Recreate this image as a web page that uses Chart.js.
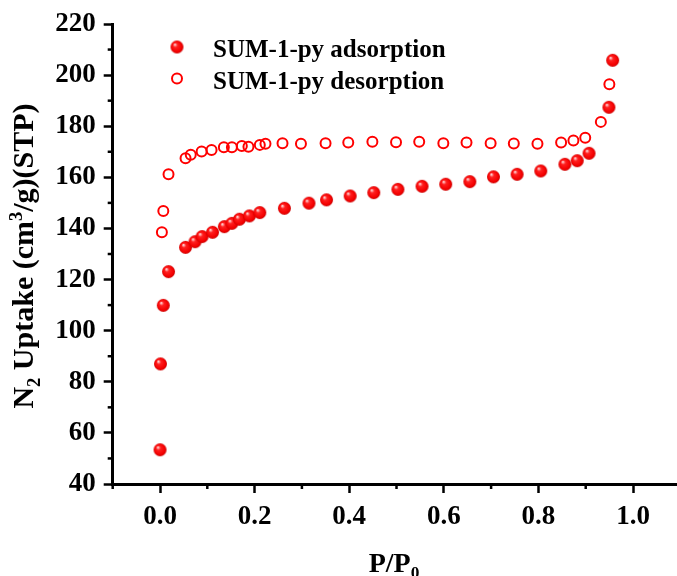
<!DOCTYPE html>
<html lang="en">
    <head>
        <meta charset="UTF-8" />
        <title>N2 isotherm SUM-1-py</title>
        <script src="https://cdn.jsdelivr.net/npm/chart.js"></script>
        <style>
            body {
                margin: 0;
                background: #fff;
                overflow: hidden;
            }
            #isoChart {
                display: block;
            }
        </style>
    </head>
    <body>
        <canvas id="isoChart" width="677" height="576"></canvas>

        <script>
            // adsorption branch (P/P0, uptake)
            const adsP = [0.000, 0.001, 0.007, 0.018, 0.054, 0.074, 0.089, 0.111, 0.136, 0.152, 0.168, 0.189, 0.211, 0.263, 0.315, 0.352, 0.402, 0.452, 0.503, 0.554, 0.604, 0.655, 0.705, 0.755, 0.805, 0.856, 0.882, 0.907, 0.949, 0.957];
            const adsQ = [53.4, 87.0, 109.9, 123.1, 132.6, 134.8, 136.8, 138.5, 140.7, 142.0, 143.6, 144.9, 146.2, 147.9, 149.9, 151.2, 152.7, 154.0, 155.3, 156.5, 157.3, 158.3, 160.2, 161.2, 162.5, 165.1, 166.5, 169.4, 187.4, 205.8];

            // desorption branch
            const desP = [0.004, 0.007, 0.018, 0.054, 0.065, 0.088, 0.109, 0.135, 0.152, 0.173, 0.187, 0.211, 0.223, 0.259, 0.298, 0.350, 0.398, 0.449, 0.499, 0.548, 0.599, 0.648, 0.699, 0.748, 0.798, 0.848, 0.874, 0.899, 0.932, 0.950];
            const desQ = [138.5, 146.8, 161.2, 167.5, 168.8, 170.1, 170.7, 171.8, 171.8, 172.3, 172.0, 172.7, 173.1, 173.3, 173.1, 173.3, 173.6, 173.9, 173.7, 173.9, 173.3, 173.6, 173.3, 173.2, 173.1, 173.6, 174.4, 175.5, 181.7, 196.4];

            const seriesNames = ['SUM-1-py adsorption', 'SUM-1-py desorption'];

            // tick values
            const xTicks = [0.0, 0.2, 0.4, 0.6, 0.8, 1.0];
            const xMinor = [-0.1, 0.1, 0.3, 0.5, 0.7, 0.9];
            const yTicks = [40, 60, 80, 100, 120, 140, 160, 180, 200, 220];
            const yMinor = [50, 70, 90, 110, 130, 150, 170, 190, 210];

            const FONT = "'Liberation Serif', 'Times New Roman', serif";
            const RED = '#ff0000';

            // shaded red ball used as the filled marker
            function makeBall(r) {
                const size = Math.ceil(r * 2 + 2);
                const c = document.createElement('canvas');
                c.width = size;
                c.height = size;
                const g = c.getContext('2d');
                const cx = size / 2, cy = size / 2;
                const grad = g.createRadialGradient(cx - r * 0.35, cy - r * 0.4, r * 0.05, cx, cy, r);
                grad.addColorStop(0, '#ffe0e0');
                grad.addColorStop(0.3, '#ff2020');
                grad.addColorStop(0.8, '#f40000');
                grad.addColorStop(1, '#c80000');
                g.fillStyle = grad;
                g.beginPath();
                g.arc(cx, cy, r, 0, Math.PI * 2);
                g.fill();
                return c;
            }
            const ball = makeBall(6.5);

            const toPts = (xs, ys) => xs.map((x, i) => ({ x: x, y: ys[i] }));

            // draw text with sub/superscripts, centred on 0,0 baseline
            function drawRich(ctx, parts, size) {
                const small = size * 0.62;
                let total = 0;
                parts.forEach((p) => {
                    ctx.font = 'bold ' + (p.s ? small : size) + 'px ' + FONT;
                    p.w = ctx.measureText(p.t).width;
                    total += p.w;
                });
                let x = -total / 2;
                parts.forEach((p) => {
                    ctx.font = 'bold ' + (p.s ? small : size) + 'px ' + FONT;
                    let dy = 0;
                    if (p.s === 'sub') dy = size * 0.22;
                    if (p.s === 'sup') dy = -size * 0.38;
                    ctx.fillText(p.t, x, dy);
                    x += p.w;
                });
            }

            const decorPlugin = {
                id: 'decor',
                afterDraw(chart) {
                    const ctx = chart.ctx;
                    const xs = chart.scales.x, ys = chart.scales.y;
                    const area = chart.chartArea;
                    ctx.save();
                    // minor ticks
                    ctx.strokeStyle = '#000';
                    ctx.lineWidth = 2.5;
                    xMinor.forEach((v) => {
                        const px = xs.getPixelForValue(v);
                        ctx.beginPath();
                        ctx.moveTo(px, area.bottom);
                        ctx.lineTo(px, area.bottom + 5);
                        ctx.stroke();
                    });
                    yMinor.forEach((v) => {
                        const py = ys.getPixelForValue(v);
                        ctx.beginPath();
                        ctx.moveTo(area.left, py);
                        ctx.lineTo(area.left - 5, py);
                        ctx.stroke();
                    });

                    // axis titles
                    ctx.fillStyle = '#000';
                    ctx.textAlign = 'left';
                    ctx.textBaseline = 'alphabetic';
                    ctx.save();
                    ctx.translate(33, 256);
                    ctx.rotate(-Math.PI / 2);
                    drawRich(ctx, [
                        { t: 'N' }, { t: '2', s: 'sub' },
                        { t: ' Uptake (cm' }, { t: '3', s: 'sup' },
                        { t: '/g)(STP)' },
                    ], 30);
                    ctx.restore();

                    ctx.save();
                    ctx.translate(394, 572);
                    drawRich(ctx, [{ t: 'P/P' }, { t: '0', s: 'sub' }], 28);
                    ctx.restore();

                    // legend
                    ctx.drawImage(ball, 177 - ball.width / 2, 47 - ball.height / 2);
                    ctx.strokeStyle = RED;
                    ctx.lineWidth = 2;
                    ctx.beginPath();
                    ctx.arc(177, 78.5, 5, 0, Math.PI * 2);
                    ctx.stroke();
                    ctx.fillStyle = '#000';
                    ctx.font = 'bold 25px ' + FONT;
                    ctx.fillText(seriesNames[0], 213, 57);
                    ctx.fillText(seriesNames[1], 213, 88.5);
                    ctx.restore();
                },
            };

            const ctx = document.getElementById('isoChart').getContext('2d');
            const isoChart = new Chart(ctx, {
                type: 'scatter',
                data: {
                    datasets: [
                        {
                            label: seriesNames[0],
                            data: toPts(adsP, adsQ),
                            pointStyle: ball,
                            pointRadius: 6.5,
                            pointHoverRadius: 6.5,
                        },
                        {
                            label: seriesNames[1],
                            data: toPts(desP, desQ),
                            pointStyle: 'circle',
                            pointRadius: 5,
                            pointHoverRadius: 5,
                            borderWidth: 2,
                            borderColor: RED,
                            backgroundColor: 'rgba(0,0,0,0)',
                        },
                    ],
                },
                options: {
                    responsive: false,
                    animation: false,
                    layout: {
                        autoPadding: false,
                        padding: { top: 24, right: 0, left: 0, bottom: 0 },
                    },
                    plugins: {
                        legend: { display: false },
                        tooltip: { enabled: false },
                    },
                    scales: {
                        x: {
                            type: 'linear',
                            min: -0.1,
                            max: 1.093,
                            afterBuildTicks: (s) => {
                                s.ticks = xTicks.map((v) => ({ value: v }));
                            },
                            afterFit: (s) => {
                                s.height = 92;
                                s.paddingLeft = 0;
                                s.paddingRight = 0;
                            },
                            border: { display: true, color: '#000', width: 3 },
                            grid: {
                                drawOnChartArea: false,
                                drawTicks: true,
                                tickLength: 9,
                                tickWidth: 2.5,
                                tickColor: '#000',
                            },
                            ticks: {
                                color: '#000',
                                font: { family: FONT, size: 27, weight: 'bold' },
                                padding: 8,
                                maxRotation: 0,
                                autoSkip: false,
                                callback: (v) => Number(v).toFixed(1),
                            },
                        },
                        y: {
                            min: 40,
                            max: 220,
                            afterBuildTicks: (s) => {
                                s.ticks = yTicks.map((v) => ({ value: v }));
                            },
                            afterFit: (s) => {
                                s.width = 112.7;
                                s.paddingTop = 0;
                                s.paddingBottom = 0;
                            },
                            border: { display: true, color: '#000', width: 3 },
                            grid: {
                                drawOnChartArea: false,
                                drawTicks: true,
                                tickLength: 9,
                                tickWidth: 2.5,
                                tickColor: '#000',
                            },
                            ticks: {
                                color: '#000',
                                font: { family: FONT, size: 27, weight: 'bold' },
                                padding: 8,
                                autoSkip: false,
                            },
                        },
                    },
                },
                plugins: [decorPlugin],
            });
        </script>
    </body>
</html>
